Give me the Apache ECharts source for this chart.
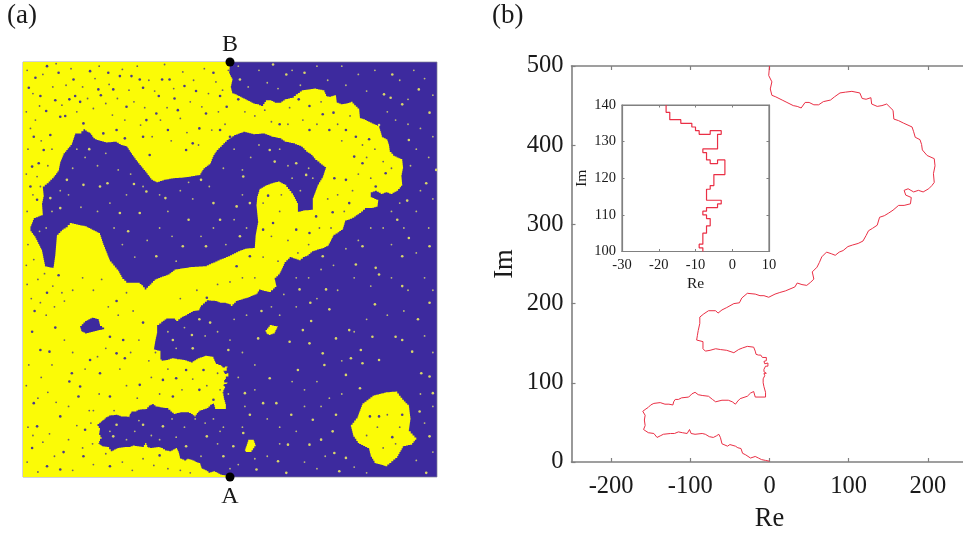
<!DOCTYPE html>
<html><head><meta charset="utf-8">
<style>html,body{margin:0;padding:0;background:#fff;overflow:hidden}#c{width:963px;height:534px}</style>
<script src="https://cdn.jsdelivr.net/npm/echarts@6/dist/echarts.min.js"></script>
</head><body><div id="c"></div>
<script>
// Domain wall: [Re, Im]
const wallLower = [[0,1],[-5,2],[-10,3],[-14,5],[-18,7],[-24,5],[-26,7],[-30,9],[-34,11],[-36,17],[-40,18],[-43,20],[-50,22],[-53,20],[-60,23],[-62,31],[-64,35],[-67,33],[-71,31],[-76,32],[-81,35],[-85,36],[-94,35],[-99,36],[-101,41],[-104,36],[-110,37],[-115,38],[-120,36],[-125,36],[-134,35],[-138,33],[-142,31],[-146,36],[-153,37],[-156,39],[-159,41],[-157,46],[-155,48],[-158,53],[-157,59],[-160,64],[-156,67],[-153,69],[-150,72],[-146,74],[-138,75],[-132,73],[-127,73],[-122,72],[-121,76],[-119,79],[-115,79],[-111,81],[-102,82],[-98,86],[-94,88],[-90,85],[-85,84],[-77,83],[-72,79],[-68,76],[-60,78],[-52,78],[-47,76],[-43,73],[-40,77],[-37,80],[-28,83],[-24,87],[-20,89],[-18,82],[-5,82],[-5,88],[-7,95]];
// Same wall at full resolution, the inset of panel (b)
const stairs = [[-8,100],[-8,101],[-9,101],[-9,102],[-8,102],[-8,105],[-7,105],[-7,107],[-6,107],[-6,109],[-7,109],[-7,110],[-8,110],[-8,111],[-7,111],[-7,112],[-4,112],[-4,113],[-3,113],[-3,114],[-7,114],[-7,117],[-6,117],[-6,118],[-5,118],[-5,121],[-2,121],[-2,125],[-4,125],[-4,124],[-6,124],[-6,125],[-7,125],[-7,127],[-8,127],[-8,128],[-4,128],[-4,132],[-3,132],[-3,133],[-6,133],[-6,132],[-9,132],[-9,133],[-10,133],[-10,134],[-11,134],[-11,135],[-14,135],[-14,136],[-17,136],[-17,138],[-18,138],[-18,140]];
const wallUpper = [[-20,145],[-28,146],[-34,144],[-39,142],[-45,138],[-54,141],[-62,142],[-68,143],[-75,141],[-81,140],[-84,143],[-84,152],[-92,154],[-91,160],[-90,166],[-88,175],[-88,183],[-83,187],[-77,191],[-68,191],[-65,188],[-60,192],[-54,195],[-45,200],[-38,201],[-35,207],[-28,213],[-18,212],[-12,210],[-7,210],[-1,208],[1,206],[7,212],[13,214],[20,216],[32,221],[35,226],[41,224],[47,223],[52,227],[56,231],[54,240],[60,246],[63,252],[66,259],[72,265],[78,263],[83,261],[88,265],[93,267],[99,272],[105,274],[112,276],[118,279],[122,286],[125,292],[130,295],[136,299],[139,309],[145,311],[150,314],[156,318],[163,324],[170,324],[178,326],[179,334],[172,337],[170,339],[170,343],[175,345],[182,341],[188,343],[194,341],[201,345],[205,349],[208,353],[207,364],[209,374],[208,383],[199,387],[193,394],[192,401],[190,407],[184,410],[182,417],[180,423],[169,428],[163,431],[157,433],[156,444],[148,452],[142,450],[136,449],[129,452],[128,460],[122,458],[117,459],[114,466],[104,468],[96,467],[89,466],[82,461],[77,457],[68,455],[62,451],[56,451],[50,454],[45,454],[40,447],[35,449],[30,450],[22,454],[16,457],[8,461],[3,463],[1,471],[3,480],[-1,488],[0,500]];
// Closing corners of the yellow domain, panel (a)
const yellowCorners = [[-250,500],[-250,0],[0,0]];
// Enclosed blue domain, panel (a)
const blueHole = [[-241,298],[-241,302],[-237,312],[-232,314],[-226,316],[-227,330],[-225,340],[-226,350],[-219,356],[-213,362],[-207,370],[-205,380],[-201,390],[-196,396],[-191,402],[-189,408],[-187,414],[-182,414],[-177,419],[-173,416],[-169,414],[-165,408],[-161,406],[-150,403],[-139,404],[-132,400],[-125,398],[-121,392],[-117,386],[-111,378],[-106,372],[-101,366],[-95,358],[-89,355],[-80,358],[-69,360],[-55,361],[-37,364],[-32,372],[-24,378],[-20,388],[-16,394],[-10,400],[-4,406],[5,412],[16,416],[28,413],[40,414],[50,410],[60,408],[66,404],[76,402],[86,398],[92,392],[98,388],[103,382],[108,378],[116,372],[114,366],[112,360],[106,350],[103,342],[100,334],[100,322],[90,321],[82,319],[82,330],[76,342],[68,352],[60,356],[52,354],[44,351],[36,346],[33,336],[32,326],[34,306],[31,290],[30,276],[20,275],[12,272],[0,266],[-10,262],[-28,254],[-45,253],[-65,250],[-73,244],[-89,238],[-95,232],[-101,226],[-105,231],[-109,234],[-123,234],[-130,241],[-135,250],[-145,262],[-149,272],[-153,282],[-157,294],[-165,298],[-173,302],[-191,306],[-196,301],[-201,298],[-209,290],[-210,278],[-211,266],[-213,252],[-223,254],[-225,264],[-227,274],[-235,290]];
const blueIsland = [[-181,182],[-175,188],[-167,192],[-159,190],[-157,182],[-152,178],[-161,176],[-173,173],[-179,176]];
const yellowIslandBig = [[146,63],[154,73],[160,89],[172,98],[180,100],[188,102],[200,103],[208,93],[216,85],[218,69],[216,55],[225,45],[220,39],[210,37],[202,23],[190,13],[176,17],[170,27],[168,35],[156,41],[149,51]];
const yellowIslandA = [[43,177],[48,183],[58,181],[54,173],[49,171],[45,173]];
const yellowIslandB = [[18,33],[22,45],[28,45],[31,37],[26,30],[20,30]];
// Small flipped spots
const darkSpots = [[-235,481],[-147,487],[-82,479],[-156,460],[-194,455],[-199,435],[-86,459],[-231,378],[-222,441],[-243,469],[-217,412],[-169,489],[-181,452],[-105,469],[-109,479],[-125,446],[-105,410],[-75,418],[-97,388],[-37,420],[0,410],[-53,394],[-63,442],[-41,465],[-20,487],[-4,446],[-29,438],[-137,418],[-177,426],[-205,434],[-221,495],[-237,410],[-225,394],[-241,350],[-233,334],[-239,374],[-141,467],[-119,483],[-73,479],[-45,402],[-12,418],[-55,471],[-153,414],[-127,408],[-211,454],[-187,459],[-229,459],[-207,487],[-89,438],[-67,456],[-12,459],[-101,430],[-159,467],[-189,479],[-133,483],[-207,243],[-236,200],[-239,175],[-211,180],[-194,115],[-191,125],[-181,109],[-218,151],[-229,153],[-127,143],[-137,212],[-105,186],[-65,119],[-32,129],[-28,216],[-205,9],[-239,35],[-201,30],[-85,26],[-175,57],[-183,97],[-237,89],[-205,73],[-145,97],[-109,111],[-81,117],[-37,105],[-221,222],[-169,141],[-145,169],[-129,165],[-233,61],[-177,25],[-145,13],[-221,13],[-137,149],[-53,129],[-20,93],[-69,97],[-157,125],[83,455],[125,439],[112,437],[168,407],[150,386],[126,360],[144,330],[124,319],[46,339],[10,455],[60,425],[96,418],[120,418],[160,378],[188,366],[176,350],[140,358],[104,314],[80,298],[52,306],[40,298],[96,294],[24,266],[8,254],[140,418],[96,447],[152,410],[169,73],[196,48],[208,75],[180,73]];
const lightSpots = [[98,188],[96,161],[158,153],[157,107],[74,75],[70,39],[231,125],[200,169],[175,208],[97,210],[34,167],[38,200],[114,135],[140,123],[112,149],[128,167],[146,143],[82,129],[48,119],[56,89],[18,101],[40,89],[24,75],[124,55],[96,39],[126,29],[58,19],[32,9],[100,69],[128,75],[84,226],[116,226],[180,244],[208,230],[227,190],[241,210],[220,151],[241,121],[245,101],[229,79],[241,49],[237,5],[140,23],[110,45],[72,163],[16,53],[68,5],[132,7],[160,137],[180,141],[208,165],[120,202],[144,177],[172,169],[88,177],[194,457],[214,333],[216,288],[186,461],[52,497],[12,479],[68,485],[90,487],[196,485],[228,467],[241,439],[216,406],[237,354],[249,370],[202,310],[160,278],[176,252],[152,256],[112,266],[208,266],[241,278],[180,424],[208,449],[54,380],[92,364],[16,362],[48,394],[80,378],[12,290],[24,330],[8,326],[-170,395],[-148,354],[-116,353],[-35,358],[-101,344],[-78,336],[-123,296],[-50,310],[-177,352],[-205,324],[-217,336],[-29,278],[-89,266],[-157,350],[-20,330],[-197,358],[-57,278],[-109,318],[-133,318],[-12,310],[-46,171],[-2,153],[-45,155],[-105,63],[-137,63],[-141,49],[-28,49],[-53,37],[-24,186],[-69,165],[4,37],[-81,61],[-37,190],[-8,25]];
const darkFine = [[-245,490],[-238,462],[-230,447],[-226,485],[-214,470],[-210,498],[-203,448],[-198,472],[-192,492],[-185,440],[-178,470],[-172,456],[-165,444],[-163,480],[-158,495],[-150,450],[-146,473],[-142,436],[-136,456],[-130,491],[-127,430],[-122,466],[-116,452],[-112,495],[-108,424],[-103,445],[-98,478],[-94,410],[-91,465],[-84,430],[-79,497],[-76,445],[-71,405],[-68,468],[-60,432],[-57,488],[-52,415],[-48,452],[-44,478],[-38,400],[-34,446],[-31,492],[-26,462],[-22,418],[-17,476],[-14,440],[-9,466],[-6,425],[-2,490],[-246,440],[-241,420],[-244,395],[-235,430],[-228,405],[-246,365],[-238,340],[-245,320],[-233,362],[-229,350],[-215,395],[-220,375],[-244,280],[-246,255],[-237,262],[-232,238],[-224,245],[-214,230],[-203,222],[-245,232],[-240,215],[-229,210],[-222,195],[-212,205],[-200,212],[-190,225],[-178,240],[-165,225],[-155,238],[-147,205],[-135,195],[-125,222],[-117,200],[-110,165],[-120,150],[-133,130],[-150,155],[-160,145],[-175,130],[-190,150],[-200,165],[-215,135],[-228,120],[-243,135],[-246,110],[-232,95],[-220,102],[-210,90],[-195,85],[-170,80],[-158,100],[-140,80],[-125,110],[-112,95],[-95,120],[-85,100],[-75,130],[-58,105],[-45,118],[-28,110],[-15,125],[-12,105],[-90,150],[-98,140],[-244,60],[-238,50],[-226,42],[-218,52],[-212,25],[-195,45],[-185,62],[-178,35],[-165,15],[-166,40],[-168,65],[-150,28],[-130,18],[-118,8],[-105,22],[-92,14],[-75,10],[-60,8],[-48,5],[-245,18],[-232,6],[-190,8],[-165,80],[18,440],[30,435],[42,442],[50,428],[72,445],[70,425],[88,430],[105,425],[110,452],[130,425],[135,405],[145,435],[160,400],[165,385],[175,395],[185,380],[195,372],[170,360],[155,365],[148,345],[130,340],[138,320],[118,335],[122,300],[108,300],[95,280],[82,270],[70,285],[60,320],[62,340],[50,290],[40,330],[58,260],[40,265],[30,240],[15,240],[0,235],[-15,232],[-40,225],[-60,215],[178,60],[190,75],[205,60],[185,35],[200,40],[165,50]];
const lightFine = [[10,495],[22,470],[35,490],[45,475],[58,468],[75,490],[85,472],[105,495],[118,478],[135,495],[140,472],[155,485],[165,465],[175,490],[190,440],[205,478],[215,455],[222,490],[235,480],[245,460],[200,430],[215,425],[230,420],[245,410],[225,395],[240,385],[218,375],[230,345],[245,335],[205,330],[225,320],[240,300],[195,320],[210,300],[185,300],[170,300],[155,285],[140,275],[195,280],[225,270],[125,255],[110,250],[95,240],[80,240],[65,220],[50,205],[60,195],[80,205],[105,215],[130,225],[150,240],[170,230],[195,240],[215,225],[235,240],[245,225],[20,195],[5,190],[-15,175],[-30,170],[-55,180],[-65,155],[-75,175],[0,165],[15,150],[30,135],[10,120],[-2,100],[18,85],[30,105],[45,70],[60,60],[75,115],[90,105],[105,115],[120,95],[135,100],[110,85],[90,85],[80,55],[60,40],[45,25],[30,22],[10,15],[0,10],[15,60],[-12,55],[-30,65],[-55,60],[-65,48],[-85,45],[-95,50],[-115,55],[-125,45],[-145,55],[-110,68],[-70,70],[-42,70],[-20,70],[-8,60],[-35,25],[-15,40],[105,10],[90,18],[115,25],[150,12],[165,5],[225,20],[245,30],[235,65],[245,85],[230,100],[135,140],[150,175],[165,190],[190,195],[210,200],[235,170],[245,150],[-222,300],[-230,296],[-215,320],[-205,345],[-190,372],[-185,395],[-175,385],[-160,375],[-150,390],[-135,370],[-120,365],[-105,350],[-85,340],[-60,345],[-50,355],[-25,350],[-8,372],[5,395],[25,385],[35,400],[60,395],[70,375],[95,372],[100,360],[85,345],[75,360],[15,340],[5,310],[-5,280],[20,300],[15,370],[-20,300],[-35,290],[-70,290],[-85,300],[-100,285],[-115,265],[-130,280],[-140,300],[-145,330],[-160,320],[-180,325],[-195,340],[-125,340],[-75,320],[-45,335],[-65,260]];
const endpointNames = ['A','B'];
const endpointIm = [0,500];
const mainXTicks = [-200,-100,0,100,200];

const SERIF = '"Liberation Serif", serif';
const TXT = '#1a1a1a';
const GREY = '#808080';
const YELLOW = '#fbfb06';
const BLUE = '#3d2a9e';
const RED = '#ea2f45';

const wall = wallLower.concat(stairs, wallUpper);
const yellowRegion = wall.concat(yellowCorners);

// Outline is traced on lattice-like steps, as the domains are square-lattice clusters
function latticeOutline(pixels){
  const out=[];
  for(let i=0;i<pixels.length;i++){
    const p=pixels[i], q=pixels[(i+1)%pixels.length];
    const dx=q[0]-p[0], dy=q[1]-p[1];
    const n=Math.max(1,Math.ceil(Math.max(Math.abs(dx),Math.abs(dy))/2.2));
    for(let k=1;k<=n;k++){
      out.push([p[0]+dx*k/n,p[1]+dy*(k-1)/n]);
      out.push([p[0]+dx*k/n,p[1]+dy*k/n]);
    }
  }
  return out;
}
function polygonSeries(points, fill){
  return {
    type:'custom', xAxisIndex:0, yAxisIndex:0, coordinateSystem:'cartesian2d',
    data:points, encode:{x:0,y:1}, silent:true, clip:true,
    renderItem:function(params, api){
      if(params.dataIndex!==0) return null;
      return {type:'polygon', shape:{points:latticeOutline(points.map(p=>api.coord(p)))}, style:{fill:fill}};
    }
  };
}
function spotSeries(points, colour, size){
  return {type:'scatter', xAxisIndex:0, yAxisIndex:0, data:points, symbol:'circle', symbolSize:size, silent:true,
    itemStyle:{color:colour,opacity:1}};
}
const hidden = {axisLine:{show:false},axisTick:{show:false},axisLabel:{show:false},splitLine:{show:false}};
function frame(grid,min,max,extra){return Object.assign({type:'value',gridIndex:grid,min:min,max:max,splitLine:{show:false}},extra);}
const mainLine={onZero:false,lineStyle:{color:GREY,width:1.6}};
const insetLine={onZero:false,lineStyle:{color:GREY,width:1.2}};
const mainTick={inside:true,length:4,lineStyle:{color:GREY,width:1.2}};
const insetTick={inside:true,length:2.5,lineStyle:{color:GREY}};
const mainLabel={color:TXT,fontFamily:SERIF,fontSize:24.5};
const insetLabel={color:TXT,fontFamily:SERIF,fontSize:14.5};

const option = {
  animation:false,
  backgroundColor:'#fff',
  grid:[
    {left:23,top:62,width:414,height:415,outerBoundsMode:'none',show:true,backgroundColor:BLUE,borderColor:'rgba(130,130,150,0.7)',borderWidth:1},
    {left:571.5,top:66,width:396,height:396,outerBoundsMode:'none'},
    {left:622,top:105,width:147,height:146.5,outerBoundsMode:'none',show:true,backgroundColor:'#fff',borderColor:GREY,borderWidth:1.2}
  ],
  xAxis:[
    frame(0,-250,250,hidden),
    frame(1,-250,250,{axisLine:mainLine,axisTick:Object.assign({customValues:mainXTicks},mainTick),
      axisLabel:Object.assign({customValues:mainXTicks,margin:12},mainLabel),
      name:'Re',nameLocation:'middle',nameGap:44,nameTextStyle:{color:TXT,fontFamily:SERIF,fontSize:26.5}}),
    frame(1,-250,250,{position:'top',axisLine:mainLine,axisTick:Object.assign({customValues:mainXTicks},mainTick),axisLabel:{show:false}}),
    frame(2,-30,10,{interval:10,axisLine:insetLine,axisTick:insetTick,
      axisLabel:Object.assign({margin:6},insetLabel),
      name:'Re',nameLocation:'middle',nameGap:24,nameTextStyle:{color:TXT,fontFamily:SERIF,fontSize:15.5}}),
    frame(2,-30,10,{interval:10,position:'top',axisLine:insetLine,axisTick:insetTick,axisLabel:{show:false}})
  ],
  yAxis:[
    frame(0,0,500,hidden),
    frame(1,0,500,{interval:100,axisLine:mainLine,axisTick:mainTick,
      axisLabel:Object.assign({margin:8},mainLabel),
      name:'Im',nameLocation:'middle',nameGap:53,nameTextStyle:{color:TXT,fontFamily:SERIF,fontSize:26.5}}),
    frame(1,0,500,{interval:100,position:'right',axisLine:mainLine,axisTick:mainTick,axisLabel:{show:false}}),
    frame(2,100,140,{interval:10,axisLine:insetLine,axisTick:insetTick,
      axisLabel:Object.assign({margin:6},insetLabel),
      name:'Im',nameLocation:'middle',nameGap:30,nameTextStyle:{color:TXT,fontFamily:SERIF,fontSize:15.5}}),
    frame(2,100,140,{interval:10,position:'right',axisLine:insetLine,axisTick:insetTick,axisLabel:{show:false}})
  ],
  series:[
    polygonSeries(yellowRegion,YELLOW),
    polygonSeries(blueHole,BLUE),
    polygonSeries(blueIsland,BLUE),
    polygonSeries(yellowIslandBig,YELLOW),
    polygonSeries(yellowIslandA,YELLOW),
    polygonSeries(yellowIslandB,YELLOW),
    spotSeries(darkSpots,'#4a3a8c',2.6),
    spotSeries(lightSpots,'#d8d66a',2.6),
    spotSeries(darkFine,'#6b5f6a',1.8),
    spotSeries(lightFine,'#bdbb78',1.8),
    {type:'scatter',xAxisIndex:0,yAxisIndex:0,symbol:'circle',symbolSize:9,clip:false,silent:true,z:10,
      itemStyle:{color:'#000',opacity:1},
      data:endpointNames.map((n,i)=>({name:n,value:[0,endpointIm[i]],
        label:{position:i===0?'bottom':'top',distance:i===0?3:1}})),
      label:{show:true,formatter:'{b}',color:TXT,opacity:1,fontFamily:SERIF,fontSize:24}},
    {type:'line',xAxisIndex:1,yAxisIndex:1,data:wall,showSymbol:false,silent:true,clip:false,lineStyle:{color:RED,width:1}},
    {type:'line',xAxisIndex:3,yAxisIndex:3,data:stairs,showSymbol:false,silent:true,lineStyle:{color:RED,width:1.2}}
  ],
  graphic:[
    {type:'text',left:7,top:2,style:{text:'(a)',fill:TXT,font:'27px '+SERIF}},
    {type:'text',left:492,top:2,style:{text:'(b)',fill:TXT,font:'27px '+SERIF}}
  ]
};
echarts.init(document.getElementById('c'),null,{renderer:'canvas'}).setOption(option);
</script></body></html>
